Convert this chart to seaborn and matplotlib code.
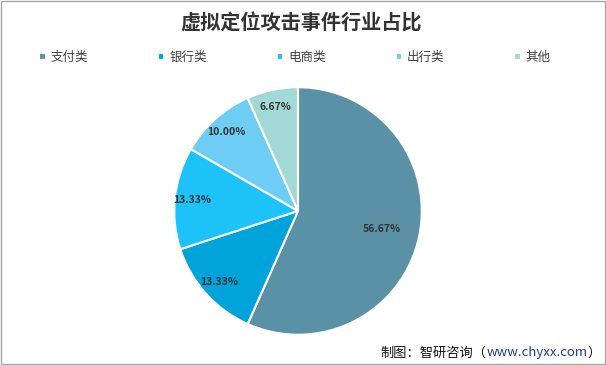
import numpy as np
import matplotlib
matplotlib.use("Agg")
import matplotlib.pyplot as plt
import seaborn as sns

categories = ["支付类", "银行类", "电商类", "出行类", "其他"]
shares = [56.67, 13.33, 13.33, 10.00, 6.67]
colors = ["#5B91A7", "#00A3DA", "#1DC2F8", "#6DCDF4", "#A2D8D6"]

sns.set_theme(style="white")
plt.rcParams['font.family'] = ['Noto Sans CJK SC', 'DejaVu Sans']

fig = plt.figure(figsize=(6.06, 3.65), dpi=100)
fig.patch.set_facecolor("white")

ax = fig.add_axes([0.2855, 0.0795, 0.4125, 0.685])
ax.set_facecolor("none")
wedges, texts, autotexts = ax.pie(
    shares, colors=sns.color_palette(colors), startangle=90, counterclock=False,
    autopct=lambda p: f"{p:.2f}%", pctdistance=0.86,
    wedgeprops=dict(edgecolor="white", linewidth=1.5),
    textprops=dict(fontsize=7.5, color="#333333", fontweight="bold"),
)
# largest slice label sits closer to the centre
ang = np.deg2rad(90 - shares[0] / 100 * 360 / 2)
autotexts[0].set_position((0.69 * np.cos(ang), 0.69 * np.sin(ang)))
ax.set_xlim(-1.01, 1.01)
ax.set_ylim(-1.01, 1.01)
ax.set_aspect("equal")
ax.axis("off")

fig.text(0.497, 0.938, "虚拟定位攻击事件行业占比", ha="center", va="center",
         fontsize=14.5, fontweight="bold", color="#333333")

leg = fig.legend(wedges, categories, loc="center", bbox_to_anchor=(0.487, 0.843),
                 ncol=5, frameon=False, fontsize=9, handlelength=0.5, handleheight=0.5,
                 columnspacing=5.6, handletextpad=0.4)
for t in leg.get_texts():
    t.set_color("#404040")

# footer: black text with blue url, laid out piece by piece from the right
renderer = fig.canvas.get_renderer()
pieces = [("）", "#111111"), ("www.chyxx.com", "#1F3F8F"), ("制图：智研咨询（", "#111111")]
x = 0.992
for s, c in pieces:
    t = fig.text(x, 0.033, s, ha="right", va="center", fontsize=9.5, color=c)
    bb = t.get_window_extent(renderer=renderer)
    x -= bb.width / fig.bbox.width

fig.add_artist(plt.Rectangle((0.001, 0.002), 0.997, 0.995, transform=fig.transFigure,
                             fill=False, edgecolor="#A6A6A6", linewidth=1))

fig.savefig("out.png", dpi=100)
